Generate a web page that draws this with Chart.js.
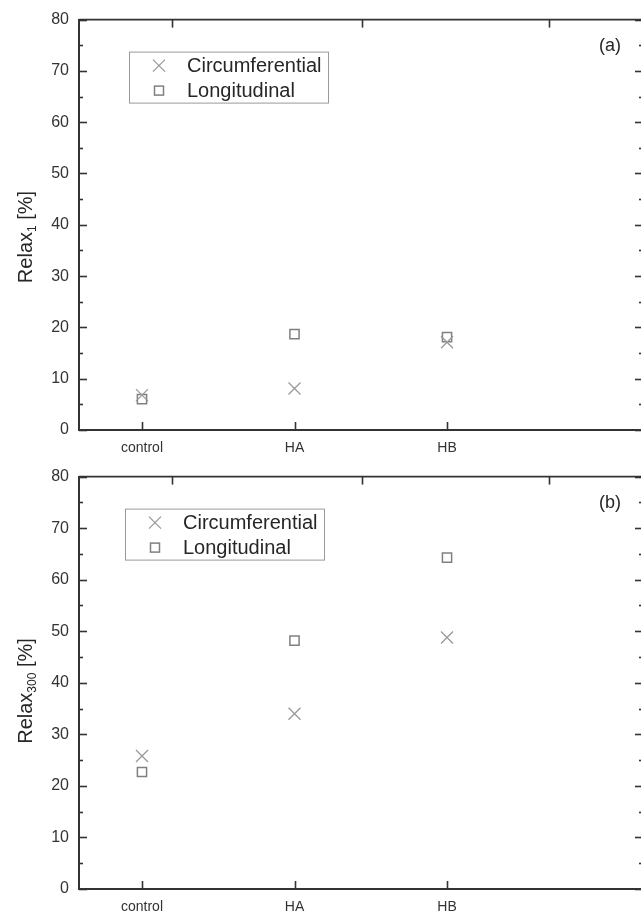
<!DOCTYPE html>
<html>
<head>
<meta charset="utf-8">
<script src="https://cdn.jsdelivr.net/npm/chart.js@4/dist/chart.umd.min.js"></script>
<style>
  html, body { margin: 0; padding: 0; background: #fff; overflow: hidden; width: 641px; height: 915px; }
  .panel { position: absolute; left: 0; }
  canvas { display: block; }
</style>
</head>
<body>
<div class="panel" style="top:0"><canvas id="chartA" width="643" height="457"></canvas></div>
<div class="panel" style="top:457px"><canvas id="chartB" width="643" height="458"></canvas></div>
<script>
const categories = ["control", "HA", "HB"];
const seriesNames = ["Circumferential", "Longitudinal"];
const circA = [6.8, 8.1, 17.1];
const longA = [6.0, 18.7, 18.1];
const circB = [25.8, 34.0, 48.8];
const longB = [22.7, 48.2, 64.3];
const yTicks = [0, 10, 20, 30, 40, 50, 60, 70, 80];
const topTicks = [1.2, 2.44, 3.67];

const FONT = "'Liberation Sans', Arial, sans-serif";
const AXIS = "#333";

function toPoints(arr) {
    return arr.map((v, i) => ({ x: i + 1, y: v }));
}

function seg(ctx, x1, y1, x2, y2) {
    ctx.beginPath();
    ctx.moveTo(x1, y1);
    ctx.lineTo(x2, y2);
    ctx.stroke();
}

// inward ticks, top border, legend box, panel tag, y title with subscript
const frame = {
    id: "frame",
    afterDraw(chart, args, o) {
        const { ctx, chartArea: a, scales } = chart;
        const x = scales.x, y = scales.y;
        ctx.save();
        ctx.strokeStyle = AXIS;
        ctx.lineWidth = 1.6;
        seg(ctx, a.left, a.top, a.right, a.top);
        for (let v = yTicks[0]; v <= yTicks[yTicks.length - 1]; v += 5) {
            const py = Math.round(y.getPixelForValue(v)) + 0.5;
            const len = v % 10 === 0 ? 8 : 4;
            seg(ctx, a.left, py, a.left + len, py);
            seg(ctx, a.right, py, a.right - len, py);
        }
        categories.forEach((c, i) => {
            const px = Math.round(x.getPixelForValue(i + 1)) + 0.5;
            seg(ctx, px, a.bottom, px, a.bottom - 8);
        });
        topTicks.forEach(t => {
            const px = Math.round(x.getPixelForValue(t)) + 0.5;
            seg(ctx, px, a.top, px, a.top + 8);
        });

        // legend
        const lx = a.left + o.legendX, ly = a.top + 32;
        ctx.strokeStyle = "#999";
        ctx.lineWidth = 1;
        ctx.strokeRect(lx + 0.5, ly + 0.5, 199, 51);
        ctx.font = "20px " + FONT;
        ctx.textBaseline = "middle";
        ctx.fillStyle = "#262626";
        chart.data.datasets.forEach((ds, i) => {
            const ry = ly + 14 + i * 25;
            const mx = lx + 30;
            ctx.strokeStyle = ds.borderColor;
            ctx.lineWidth = ds.borderWidth;
            if (ds.pointStyle === "crossRot") {
                seg(ctx, mx - 6, ry - 6, mx + 6, ry + 6);
                seg(ctx, mx - 6, ry + 6, mx + 6, ry - 6);
            } else {
                ctx.strokeRect(mx - 4.5, ry - 4.5, 9, 9);
            }
            ctx.fillText(ds.label, lx + 58, ry + 1);
        });

        // panel tag
        ctx.font = "18px " + FONT;
        ctx.textAlign = "center";
        ctx.fillText(o.tag, a.right - 33, a.top + 26);

        // y title
        ctx.translate(o.titleX, o.titleY);
        ctx.rotate(-Math.PI / 2);
        ctx.textAlign = "left";
        ctx.font = "20px " + FONT;
        const base = "Relax";
        const w1 = ctx.measureText(base).width;
        ctx.font = "12px " + FONT;
        const w2 = ctx.measureText(o.sub).width;
        ctx.font = "20px " + FONT;
        const rest = " [%]";
        const w3 = ctx.measureText(rest).width;
        let cx = -(w1 + w2 + w3) / 2;
        ctx.fillText(base, cx, 0);
        cx += w1;
        ctx.font = "12px " + FONT;
        ctx.fillText(o.sub, cx, 7);
        cx += w2;
        ctx.font = "20px " + FONT;
        ctx.fillText(rest, cx, 0);
        ctx.restore();
    }
};

function makeChart(id, circ, lon, opts) {
    const ctx = document.getElementById(id).getContext("2d");
    return new Chart(ctx, {
        type: "scatter",
        data: {
            datasets: [{
                label: seriesNames[0],
                data: toPoints(circ),
                pointStyle: "crossRot",
                pointRadius: 8.5,
                borderColor: "#999",
                backgroundColor: "#999",
                borderWidth: 1.3
            }, {
                label: seriesNames[1],
                data: toPoints(lon),
                pointStyle: "rect",
                pointRadius: 6.5,
                borderColor: "#808080",
                backgroundColor: "rgba(0,0,0,0)",
                borderWidth: 1.5
            }]
        },
        options: {
            responsive: false,
            animation: false,
            events: [],
            layout: { autoPadding: false, padding: { top: opts.top, left: 0, right: 0, bottom: 0 } },
            plugins: {
                legend: { display: false },
                tooltip: { enabled: false },
                frame: opts.frame
            },
            scales: {
                x: {
                    type: "linear",
                    min: 0.587,
                    max: 4.285,
                    afterBuildTicks: s => { s.ticks = categories.map((c, i) => ({ value: i + 1 })); },
                    afterFit: s => { s.height = opts.bottomH; s.paddingLeft = 0; s.paddingRight = 0; },
                    grid: { display: false, drawTicks: false, tickLength: 0 },
                    border: { display: true, color: AXIS, width: 2 },
                    ticks: {
                        callback: v => categories[v - 1],
                        padding: 10,
                        color: "#333",
                        font: { family: FONT, size: 14 },
                        maxRotation: 0
                    }
                },
                y: {
                    min: 0,
                    max: 80,
                    afterBuildTicks: s => { s.ticks = yTicks.map(v => ({ value: v })); },
                    afterFit: s => { s.width = 79; },
                    grid: { display: false, drawTicks: false, tickLength: 0 },
                    border: { display: true, color: AXIS, width: 2 },
                    ticks: {
                        padding: 10,
                        color: "#333",
                        font: { family: FONT, size: 16 }
                    }
                }
            }
        },
        plugins: [frame]
    });
}

makeChart("chartA", circA, longA, {
    top: 18, bottomH: 27,
    frame: { tag: "(a)", sub: "1", legendX: 50, titleX: 26, titleY: 237 }
});
makeChart("chartB", circB, longB, {
    top: 19, bottomH: 26,
    frame: { tag: "(b)", sub: "300", legendX: 46, titleX: 26, titleY: 234 }
});
</script>
</body>
</html>
